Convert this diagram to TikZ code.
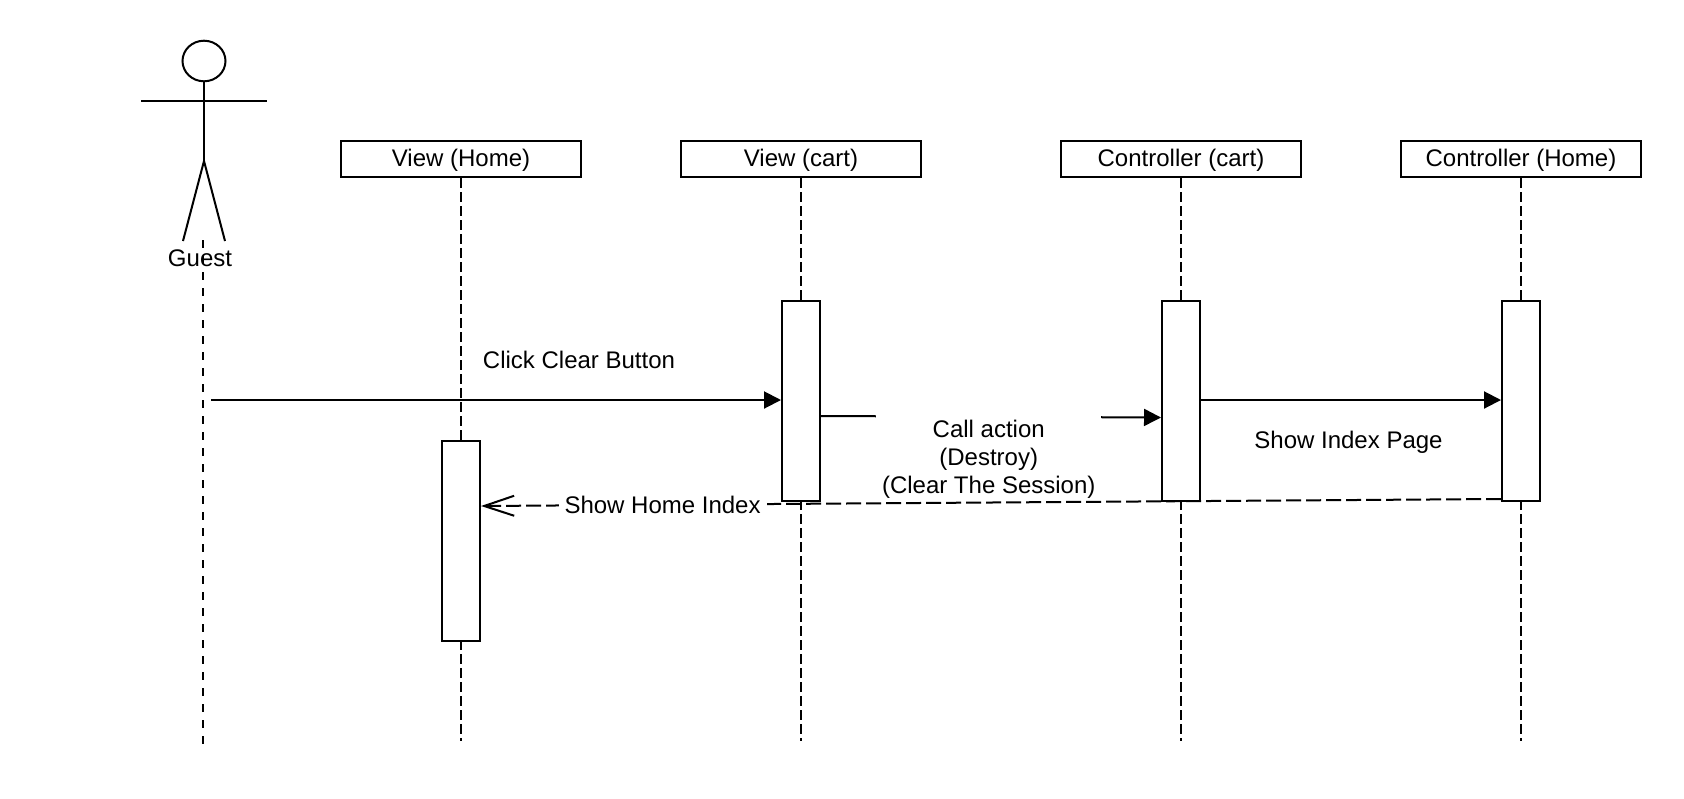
\documentclass[tikz,border=0pt]{standalone}
\usepackage{fontspec}
\setmainfont{Liberation Sans}
\usetikzlibrary{positioning,arrows.meta,shapes.geometric}
\tikzset{
  headbox/.style={draw,line width=1pt,minimum width=120pt,minimum height=18pt,inner sep=0pt,text height=10pt,text depth=2.5pt},
  barbox/.style={draw,fill=white,line width=1pt,minimum width=19pt,minimum height=100pt,inner sep=0pt},
  lifeline/.style={line width=1pt,dash pattern=on 5pt off 2pt},
  guestline/.style={line width=1pt,dash pattern=on 4pt off 4pt},
  limb/.style={line width=1pt},
  msg/.style={line width=1pt,-{Triangle[length=8.5pt,width=8.5pt]}},
  backmsg/.style={line width=1pt,dash pattern=on 7.5pt off 2.5pt,-{Straight Barb[length=15pt,width=10pt]}},
  msglabel/.style={inner sep=0pt,text height=11pt,text depth=2.5pt},
  whitelabel/.style={fill=white,inner xsep=3pt,inner ysep=3pt,align=center}
}
\begin{document}
\begin{tikzpicture}[x=0.5pt,y=-0.5pt,font=\fontsize{12}{14}\selectfont]
  \useasboundingbox (0,0) rectangle (1684,798);
  % actor
  \node(head)[draw,ellipse,line width=1pt,minimum width=21.5pt,minimum height=20.3pt,inner sep=0pt] at (204,61) {};
  \coordinate(armleft) at (141,101);
  \coordinate(armright) at (267,101);
  \coordinate(hip) at (204,161);
  \coordinate(footleft) at (183,241);
  \coordinate(footright) at (225,241);
  \node(guest)[msglabel] at (200,258) {Guest};
  \draw[limb] (head.south) -- (hip);
  \draw[limb] (armleft) -- (armright);
  \draw[limb] (footleft) -- (hip) -- (footright);
  % headers
  \node(viewhome)[headbox] at (461,159) {View (Home)};
  \node(viewcart)[headbox] at (801,159) {View (cart)};
  \node(ctrlcart)[headbox] at (1181,159) {Controller (cart)};
  \node(ctrlhome)[headbox] at (1521,159) {Controller (Home)};
  % life lines
  \coordinate(guesttop) at (203,240);
  \coordinate(guestend) at (203,744);
  \coordinate(viewhomeend) at (461,741);
  \coordinate(viewcartend) at (801,741);
  \coordinate(ctrlcartend) at (1181,741);
  \coordinate(ctrlhomeend) at (1521,741);
  \draw[guestline] (guesttop) -- (guestend);
  \draw[lifeline] (viewhome.south) -- (viewhomeend);
  \draw[lifeline] (viewcart.south) -- (viewcartend);
  \draw[lifeline] (ctrlcart.south) -- (ctrlcartend);
  \draw[lifeline] (ctrlhome.south) -- (ctrlhomeend);
  % activation bars
  \node(barhome)[barbox] at (461,541) {};
  \node(barcart)[barbox] at (801,401) {};
  \node(barctrl)[barbox] at (1181,401) {};
  \node(barindex)[barbox] at (1521,401) {};
  % messages
  \coordinate(guestfrom) at (211,400);
  \coordinate(callfrom) at (820.5,416);
  \coordinate(callto) at (1161,417.5);
  \coordinate(backfrom) at (1501,499);
  \coordinate(backto) at (481,506);
  \draw[msg] (guestfrom) -- (guestfrom -| barcart.west);
  \node(clicklabel)[msglabel] at (579,360) {Click Clear Button};
  \draw[msg] (callfrom) -- (callto) node(calllabel)[whitelabel,pos=0.494,yshift=-21.3pt,minimum width=112pt] {Call action\\(Destroy)\\(Clear The Session)};
  \draw[msg] (barctrl.east |- guestfrom) -- (guestfrom -| barindex.west);
  \node(indexlabel)[msglabel] at (1348.5,440) {Show Index Page};
  \draw[backmsg] (backfrom) -- (backto) node(backlabel)[msglabel,fill=white,inner xsep=3pt,pos=0.822] {Show Home Index};
\end{tikzpicture}
\end{document}
